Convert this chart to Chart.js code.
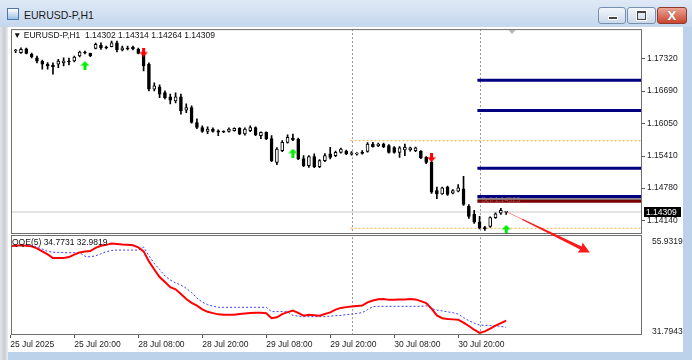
<!DOCTYPE html>
<html>
<head>
<meta charset="utf-8">
<script src="https://cdn.jsdelivr.net/npm/chart.js@4.4.1/dist/chart.umd.min.js"></script>
<style>
  body { margin:0; width:692px; height:360px; overflow:hidden; position:relative;
         background:#bcd2ea; font-family:"Liberation Sans", Arial, sans-serif; }
  #titlebar { position:absolute; left:0; top:0; width:692px; height:27px;
              background:linear-gradient(#dfe9f6, #c4d7ed); }
  #icon { position:absolute; left:7px; top:8px; width:10px; height:10px;
          border:1px solid #4f78a8; background:linear-gradient(#ffffff, #9cc0e6); }
  #titletext { position:absolute; left:24px; top:9px; font-size:10.5px; color:#1b1b1b; }
  .btn { position:absolute; top:7px; height:15px; border:1px solid #7890ae; border-radius:3px;
         background:linear-gradient(#f2f6fb, #cbd9ea); }
  #bmin { left:598px; width:26px; }
  #bmax { left:627px; width:27px; }
  #bclose { left:657px; width:28px; border-color:#8c3a2e; background:linear-gradient(#eba595, #c9442e); }
  #bmin i { position:absolute; left:9px; top:8px; width:8px; height:2px; background:#444; border:1px solid #fff; }
  #bmax i { position:absolute; left:9px; top:3px; width:7px; height:6px; border:1px solid #444; border-top-width:2px;
            box-shadow:0 0 0 1px #fff; }
  #bclose span { position:absolute; left:0; width:28px; top:1px; text-align:center; color:#fff;
                 font:bold 12px "DejaVu Sans", sans-serif; text-shadow:0 0 1px #6a1a10; }
  #leftbar { position:absolute; left:0; top:27px; width:8px; height:333px;
             background:linear-gradient(90deg, #e2e5ea, #c9ccd2 55%, #e9ebee); }
  #client { position:absolute; left:8px; top:27px; width:675px; height:325px; background:#fff; }
  #chart { position:absolute; left:0; top:-5px; }
  .lbl { position:absolute; font-size:8.5px; line-height:10px; color:#111; white-space:pre; }
  #hdr { left:5px; top:3px; }
  #qqe { left:4px; top:210px; }
</style>
</head>
<body>
<div id="titlebar">
  <div id="icon"></div>
  <div id="titletext">EURUSD-P,H1</div>
  <div class="btn" id="bmin"><i></i></div>
  <div class="btn" id="bmax"><i></i></div>
  <div class="btn" id="bclose"><span>X</span></div>
</div>
<div id="leftbar"></div>
<div id="client">
  <canvas id="chart" width="675" height="330"></canvas>
  <div class="lbl" id="hdr">▼ EURUSD-P,H1  1.14302 1.14314 1.14264 1.14309</div>
  <div class="lbl" id="qqe">QQE(5) 34.7731 32.9819</div>
</div>
<script>
// time axis
let tickLabels = ['25 Jul 2025', '25 Jul 20:00', '28 Jul 08:00', '28 Jul 20:00',
                  '29 Jul 08:00', '29 Jul 20:00', '30 Jul 08:00', '30 Jul 20:00'];
let tickBars = [0, 12, 24, 36, 48, 60, 72, 84];
let priceTicks = [1.17320, 1.16690, 1.16050, 1.15410, 1.14780, 1.14140];
let qqeTicks = [55.9319, 31.7943];

// H1 candles, bar 0 = 25 Jul 08:00
let opens = [
  1.17412, 1.17477, 1.17443, 1.17522, 1.17412, 1.17345, 1.17281, 1.17216, 1.17202, 1.17216,
  1.17247, 1.17281, 1.17281, 1.17379, 1.17457, 1.17432, 1.17530, 1.17589, 1.17555, 1.17561,
  1.17639, 1.17496, 1.17536, 1.17555, 1.17510, 1.17443, 1.17216, 1.16726, 1.16771, 1.16660,
  1.16575, 1.16497, 1.16575, 1.16315, 1.16366, 1.16071, 1.15973, 1.15895, 1.15942, 1.15909,
  1.15895, 1.15895, 1.15909, 1.15954, 1.15844, 1.15909, 1.15973, 1.15811, 1.15875, 1.15752,
  1.15287, 1.15517, 1.15679, 1.15766, 1.15746, 1.15360, 1.15223, 1.15399, 1.15203, 1.15321,
  1.15452, 1.15419, 1.15483, 1.15507, 1.15448, 1.15448, 1.15487, 1.15503, 1.15648, 1.15615,
  1.15648, 1.15615, 1.15576, 1.15483, 1.15531, 1.15531, 1.15517, 1.15503, 1.15386, 1.15287,
  1.14733, 1.14668, 1.14798, 1.14680, 1.14719, 1.14766, 1.14419, 1.14262, 1.14112, 1.13994,
  1.14027, 1.14198, 1.14288, 1.14302];
let highs = [
  1.17496, 1.17510, 1.17541, 1.17536, 1.17438, 1.17379, 1.17300, 1.17247, 1.17242, 1.17314,
  1.17345, 1.17340, 1.17379, 1.17477, 1.17477, 1.17438, 1.17634, 1.17639, 1.17575, 1.17673,
  1.17673, 1.17575, 1.17575, 1.17575, 1.17536, 1.17477, 1.17242, 1.16850, 1.16810, 1.16693,
  1.16628, 1.16654, 1.16628, 1.16438, 1.16399, 1.16144, 1.16007, 1.15987, 1.15968, 1.15928,
  1.15909, 1.15968, 1.15968, 1.15973, 1.15968, 1.16007, 1.15987, 1.15889, 1.15889, 1.15811,
  1.15576, 1.15713, 1.15830, 1.15844, 1.15762, 1.15419, 1.15419, 1.15452, 1.15340, 1.15458,
  1.15581, 1.15507, 1.15566, 1.15527, 1.15497, 1.15478, 1.15517, 1.15674, 1.15679, 1.15664,
  1.15664, 1.15634, 1.15595, 1.15595, 1.15648, 1.15585, 1.15585, 1.15517, 1.15399, 1.15321,
  1.14798, 1.14801, 1.14821, 1.14752, 1.14850, 1.15013, 1.14458, 1.14341, 1.14223, 1.14027,
  1.14214, 1.14292, 1.14380, 1.14314];
let lows = [
  1.17365, 1.17443, 1.17432, 1.17418, 1.17340, 1.17242, 1.17118, 1.17118, 1.17020, 1.17149,
  1.17183, 1.17202, 1.17261, 1.17359, 1.17418, 1.17365, 1.17516, 1.17510, 1.17516, 1.17555,
  1.17457, 1.17477, 1.17496, 1.17496, 1.17418, 1.17085, 1.16693, 1.16693, 1.16561, 1.16536,
  1.16438, 1.16458, 1.16236, 1.16262, 1.16056, 1.15948, 1.15875, 1.15850, 1.15879, 1.15811,
  1.15870, 1.15879, 1.15899, 1.15830, 1.15821, 1.15889, 1.15811, 1.15752, 1.15732, 1.15301,
  1.15242, 1.15497, 1.15664, 1.15713, 1.15340, 1.15203, 1.15189, 1.15184, 1.15184, 1.15301,
  1.15354, 1.15399, 1.15468, 1.15438, 1.15429, 1.15429, 1.15448, 1.15487, 1.15585, 1.15595,
  1.15576, 1.15468, 1.15468, 1.15386, 1.15419, 1.15507, 1.15497, 1.15360, 1.15262, 1.14674,
  1.14570, 1.14654, 1.14635, 1.14664, 1.14703, 1.14439, 1.14184, 1.14086, 1.13978, 1.13949,
  1.14008, 1.14184, 1.14262, 1.14264];
let closes = [
  1.17463, 1.17483, 1.17510, 1.17432, 1.17359, 1.17275, 1.17216, 1.17183, 1.17169, 1.17281,
  1.17281, 1.17261, 1.17359, 1.17457, 1.17438, 1.17379, 1.17608, 1.17541, 1.17536, 1.17639,
  1.17496, 1.17541, 1.17516, 1.17516, 1.17432, 1.17183, 1.16726, 1.16791, 1.16628, 1.16561,
  1.16511, 1.16575, 1.16301, 1.16366, 1.16071, 1.15973, 1.15895, 1.15942, 1.15895, 1.15879,
  1.15883, 1.15942, 1.15954, 1.15844, 1.15942, 1.15973, 1.15825, 1.15875, 1.15746, 1.15321,
  1.15550, 1.15679, 1.15777, 1.15726, 1.15354, 1.15223, 1.15399, 1.15203, 1.15321, 1.15419,
  1.15386, 1.15483, 1.15550, 1.15452, 1.15472, 1.15458, 1.15464, 1.15648, 1.15595, 1.15648,
  1.15595, 1.15483, 1.15483, 1.15570, 1.15581, 1.15570, 1.15570, 1.15374, 1.15287, 1.14699,
  1.14668, 1.14786, 1.14654, 1.14733, 1.14786, 1.14458, 1.14223, 1.14112, 1.13994, 1.13982,
  1.14198, 1.14276, 1.14341, 1.14309];

// QQE(5) sub window
let qqeFast = [
  54.67, 54.78, 54.86, 54.73, 54.59, 54.05, 53.25, 52.44, 51.45, 51.45,
  51.50, 51.72, 52.37, 52.98, 53.19, 53.33, 54.19, 54.73, 54.99, 55.34,
  55.21, 55.10, 55.05, 54.86, 54.32, 53.25, 50.57, 48.42, 46.41, 45.07,
  43.67, 43.11, 41.85, 40.51, 39.52, 38.77, 37.75, 37.10, 36.76, 36.43,
  36.35, 36.35, 36.35, 36.54, 36.67, 36.78, 36.89, 36.83, 36.72, 35.41,
  35.63, 36.49, 37.03, 37.45, 36.81, 36.08, 36.30, 36.22, 36.08, 36.54,
  36.97, 37.69, 38.15, 38.36, 38.52, 38.63, 38.77, 39.65, 40.11, 40.46,
  40.51, 40.30, 40.32, 40.38, 40.43, 40.51, 40.43, 39.97, 39.44, 37.96,
  36.14, 35.41, 35.20, 35.09, 35.01, 34.20, 33.32, 32.33, 31.47, 31.87,
  32.60, 33.40, 34.10, 34.77];
let qqeSlow = [
  54.86, 54.86, 54.86, 54.86, 54.80, 54.37, 53.87, 53.25, 53.04, 52.95,
  52.90, 52.90, 52.90, 52.90, 51.96, 51.77, 52.10, 52.58, 53.19, 53.49,
  53.60, 53.60, 53.60, 53.60, 53.60, 54.40, 52.04, 50.03, 48.42, 46.68,
  45.61, 44.80, 44.27, 43.38, 42.25, 40.78, 39.70, 39.03, 38.63, 38.31,
  38.31, 38.31, 38.31, 38.31, 38.31, 38.31, 38.31, 38.31, 38.31, 37.16,
  37.16, 37.16, 37.10, 36.14, 35.95, 35.81, 35.81, 35.81, 35.81, 35.81,
  35.95, 36.08, 36.14, 36.35, 36.49, 36.67, 36.89, 37.69, 38.50, 38.58,
  38.58, 38.58, 38.58, 38.58, 38.58, 38.58, 38.58, 38.58, 38.72, 37.96,
  37.56, 37.35, 37.10, 36.89, 36.49, 35.55, 34.74, 34.07, 33.59, 33.51,
  33.45, 33.40, 33.20, 32.98];

// objects on the chart
let blueLevels = [1.16903, 1.16307, 1.15170, 1.14615];
let redLevel = 1.14523;
let greyLevel = 1.14566;
let dayLevels = [1.15713, 1.13990];
let daySeparators = [64, 88];
let buyBars = [14, 53, 93];
let buyPrices = [1.17189, 1.15468, 1.13968];
let sellBars = [25, 79];
let sellPrices = [1.17457, 1.15386];
let bid = closes[closes.length - 1];
let pointerFrom = [93.2, 1.14309];   // bar, price
let pointerTo = [108.7, 52.98];      // bar, QQE value
let shiftBar = 94.1;

let xMin = 0.13, xMax = 118.47;
let levelStart = 87.6, dayStart = 63.8;

// arrow icons like MT4 wingdings
function arrowIcon(color, up) {
    let c = document.createElement('canvas');
    c.width = 9; c.height = 9;
    let g = c.getContext('2d');
    g.fillStyle = color;
    g.beginPath();
    let pts = [[4.5, 0], [9, 4.5], [6, 4.5], [6, 9], [3, 9], [3, 4.5], [0, 4.5]];
    pts.forEach((p, i) => {
        let yy = up ? p[1] : 9 - p[1];
        if (i == 0) g.moveTo(p[0], yy); else g.lineTo(p[0], yy);
    });
    g.closePath();
    g.fill();
    return c;
}

let idx = opens.map((o, i) => i);
let bodies = idx.map(i => ({x: i, y: [opens[i], closes[i]]}));
let wicks = idx.map(i => ({x: i, y: [lows[i], highs[i]]}));
let bodyColors = idx.map(i => closes[i] > opens[i] ? '#ffffff' : '#000000');

function hline(value, color, width, dash, from) {
    return {
        type: 'line', data: [{x: from, y: value}, {x: xMax, y: value}],
        borderColor: color, borderWidth: width, borderDash: dash || [],
        pointRadius: 0, yAxisID: 'y'
    };
}

let font = {family: 'Liberation Sans', size: 8.5};

let mtPlugin = {
    id: 'mt',
    beforeDatasetsDraw(chart) {
        let {ctx, chartArea: a, scales: {x}} = chart;
        ctx.save();
        ctx.strokeStyle = '#9a9a9a';
        ctx.lineWidth = 1;
        ctx.setLineDash([2, 2]);
        daySeparators.forEach(b => {
            let px = Math.round(x.getPixelForValue(b)) + 0.5;
            ctx.beginPath(); ctx.moveTo(px, a.top); ctx.lineTo(px, a.bottom); ctx.stroke();
        });
        ctx.restore();
    },
    afterDatasetsDraw(chart) {
        let {ctx, chartArea: a, scales: {x, y, q}} = chart;
        let split = Math.round(y.bottom);
        ctx.save();
        // panel frames
        ctx.fillStyle = '#fff';
        ctx.fillRect(a.left, split - 0.5, a.right - a.left, 1.5);
        ctx.strokeStyle = '#6e6e6e';
        ctx.lineWidth = 1;
        ctx.strokeRect(a.left + 0.5, a.top + 0.5, a.right - a.left - 1, split - a.top - 1);
        ctx.strokeRect(a.left + 0.5, split + 1.5, a.right - a.left - 1, a.bottom - split - 2);
        // chart shift marker
        let sx = x.getPixelForValue(shiftBar);
        ctx.fillStyle = '#b4b4b4';
        ctx.beginPath();
        ctx.moveTo(sx - 3.5, a.top + 1); ctx.lineTo(sx + 3.5, a.top + 1); ctx.lineTo(sx, a.top + 5);
        ctx.closePath(); ctx.fill();
        // level caption
        ctx.font = '7px "Liberation Sans"';
        ctx.fillStyle = 'rgba(170,110,110,0.75)';
        ctx.textBaseline = 'middle';
        ctx.fillText('Sell 1.14523', x.getPixelForValue(88.3), y.getPixelForValue(redLevel) - 1);
        // bid tag
        let by = y.getPixelForValue(bid);
        ctx.fillStyle = '#000';
        ctx.fillRect(a.right + 2, Math.round(by) - 5, 37, 10);
        ctx.fillStyle = '#fff';
        ctx.font = '8.5px "Liberation Sans"';
        ctx.textAlign = 'left';
        ctx.fillText(bid.toFixed(5), a.right + 4, by + 0.5);
        // hand drawn pointer arrow
        let x0 = x.getPixelForValue(pointerFrom[0]), y0 = y.getPixelForValue(pointerFrom[1]);
        let x1 = x.getPixelForValue(pointerTo[0]), y1 = q.getPixelForValue(pointerTo[1]);
        let dx = x1 - x0, dy = y1 - y0, len = Math.hypot(dx, dy);
        let ux = dx / len, uy = dy / len, nx = -uy, ny = ux;
        let pt = (t, w) => [x0 + ux * t + nx * w, y0 + uy * t + ny * w];
        ctx.strokeStyle = 'rgba(255,110,110,0.8)';
        ctx.lineWidth = 1;
        ctx.beginPath(); ctx.moveTo(x0, y0);
        let m = pt(len * 0.18, 0); ctx.lineTo(m[0], m[1]); ctx.stroke();
        ctx.fillStyle = '#ff1a1a';
        let poly = [pt(len * 0.18, -0.6), pt(len - 10, -1.8), pt(len - 11, -5.5), pt(len, 0),
                    pt(len - 11, 5.5), pt(len - 10, 1.8), pt(len * 0.18, 0.6)];
        ctx.beginPath();
        poly.forEach((p, i) => i ? ctx.lineTo(p[0], p[1]) : ctx.moveTo(p[0], p[1]));
        ctx.closePath(); ctx.fill();
        ctx.restore();
    }
};

let datasets = [
    {type: 'scatter', data: buyBars.map((b, i) => ({x: b, y: buyPrices[i]})),
     pointStyle: arrowIcon('#00ee00', true), yAxisID: 'y'},
    {type: 'scatter', data: sellBars.map((b, i) => ({x: b, y: sellPrices[i]})),
     pointStyle: arrowIcon('#ff0000', false), yAxisID: 'y'},
    {type: 'bar', data: bodies, backgroundColor: bodyColors, borderColor: '#000', borderWidth: 1,
     borderSkipped: false, barThickness: 3, minBarLength: 1, grouped: false, yAxisID: 'y'},
    {type: 'bar', data: wicks, backgroundColor: '#000', borderWidth: 0,
     barThickness: 1, grouped: false, yAxisID: 'y'},
    {type: 'line', data: idx.map(i => ({x: i, y: qqeFast[i]})), borderColor: '#ff0000',
     borderWidth: 2, pointRadius: 0, yAxisID: 'q'},
    {type: 'line', data: idx.map(i => ({x: i, y: qqeSlow[i]})), borderColor: '#3b3bff',
     borderWidth: 1, borderDash: [2, 2], pointRadius: 0, yAxisID: 'q'}
];
blueLevels.forEach(v => datasets.push(hline(v, '#000080', 3, null, levelStart)));
datasets.push(hline(redLevel, '#7a0000', 3, null, levelStart));
datasets.push(hline(greyLevel, '#8c8c8c', 2, null, levelStart));
dayLevels.forEach(v => datasets.push(hline(v, '#f5ad3c', 1, [2, 2], dayStart)));
datasets.push(hline(bid, '#c8c8c8', 1, null, xMin));

new Chart(document.getElementById('chart'), {
    type: 'bar',
    data: {datasets: datasets},
    plugins: [mtPlugin],
    options: {
        responsive: false,
        animation: false,
        devicePixelRatio: 1,
        // the right axis asks for ~6px of label room at the top, so the canvas starts 5px higher
        layout: {autoPadding: false, padding: {left: 3, top: 6, right: 0, bottom: 0}},
        plugins: {legend: {display: false}, tooltip: {enabled: false}},
        scales: {
            x: {
                type: 'linear', min: xMin, max: xMax, offset: false,
                afterBuildTicks: s => { s.ticks = tickBars.map(v => ({value: v})); },
                afterFit: s => { s.height = 17; },
                ticks: {autoSkip: false, maxRotation: 0, align: 'start', padding: 2,
                        color: '#1a1a1a', font: font, callback: (v, i) => tickLabels[i]},
                grid: {offset: false, drawOnChartArea: false, tickLength: 3, color: '#555'},
                border: {display: false}
            },
            y: {
                type: 'linear', position: 'right', stack: 'panes', stackWeight: 206,
                min: 1.13870, max: 1.17908, beginAtZero: false,
                afterBuildTicks: s => { s.ticks = priceTicks.map(v => ({value: v})); },
                afterFit: s => { s.width = 41; },
                ticks: {autoSkip: false, padding: 2, color: '#1a1a1a', font: font,
                        callback: v => v.toFixed(5)},
                grid: {drawOnChartArea: false, tickLength: 3, color: '#555'},
                border: {display: false}
            },
            q: {
                type: 'linear', position: 'right', stack: 'panes', stackWeight: 101,
                min: 30.916, max: 57.795, beginAtZero: false,
                afterBuildTicks: s => { s.ticks = qqeTicks.map(v => ({value: v})); },
                afterFit: s => { s.width = 41; },
                ticks: {autoSkip: false, padding: 2, color: '#1a1a1a', font: font,
                        callback: v => v.toFixed(4)},
                grid: {display: false},
                border: {display: false}
            }
        }
    }
});
</script>
</body>
</html>
